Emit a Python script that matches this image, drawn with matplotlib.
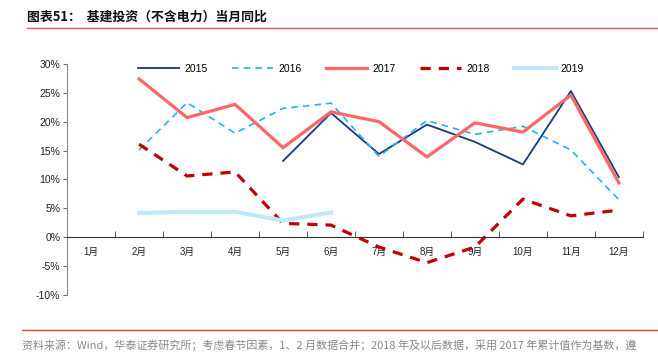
import matplotlib.pyplot as plt
import numpy as np

plt.rcParams["font.family"] = ['Liberation Sans', 'Noto Sans CJK SC', 'DejaVu Sans']
FONTSIZE = 7.5

months = ['1月', '2月', '3月', '4月', '5月', '6月', '7月', '8月', '9月', '10月', '11月', '12月']
nan = np.nan
y2015 = [nan, nan, nan, nan, 13.2, 21.5, 14.4, 19.5, 16.5, 12.6, 25.3, 10.4]
y2016 = [nan, 15.1, 23.3, 18.0, 22.3, 23.2, 14.0, 20.2, 17.8, 19.2, 15.1, 6.5]
y2017 = [nan, 27.4, 20.7, 23.0, 15.5, 21.7, 20.0, 13.9, 19.8, 18.2, 24.6, 9.4]
y2018 = [nan, 16.1, 10.6, 11.3, 2.4, 2.1, -1.7, -4.4, -1.7, 6.6, 3.7, 4.7]
y2019 = [nan, 4.2, 4.4, 4.4, 2.9, 4.3, nan, nan, nan, nan, nan, nan]
yticks = [-10, -5, 0, 5, 10, 15, 20, 25, 30]

fig = plt.figure(figsize=(6.58, 3.55), dpi=100)
ax = fig.add_axes([0.102, 0.169, 0.875, 0.651])
x = np.arange(len(months))

ax.plot(x, y2015, color='#163B7C', lw=1.3, label='2015')
ax.plot(x, y2016, color='#1CB4F0', lw=1.2, ls=(0, (4, 3)), label='2016')
ax.plot(x, y2017, color='#FF6666', lw=2.3, label='2017')
ax.plot(x, y2018, color='#C00000', lw=2.3, ls=(0, (3.2, 2.5)), label='2018')
ax.plot(x, y2019, color='#BFE9F7', lw=3.0, label='2019')

ax.set_xlim(-0.5, 11.5)
ax.set_ylim(-10, 30)
ax.set_yticks(yticks)
ax.set_yticklabels(['%d%%' % v for v in yticks])
ax.set_xticks(x)
ax.set_xticklabels(months)
ax.set_xticks(np.arange(-0.5, 12, 1), minor=True)
ax.tick_params(axis='x', which='major', length=0, pad=7, labelsize=7, labelcolor='#222222')
ax.tick_params(axis='x', which='minor', length=4, direction='in', color='#444444')
ax.tick_params(axis='y', length=3, color='#666666', pad=2, labelsize=FONTSIZE, labelcolor='#222222')
ax.spines['top'].set_visible(False)
ax.spines['right'].set_visible(False)
ax.spines['bottom'].set_position(('data', 0))
ax.spines['bottom'].set_color('#333333')
ax.spines['left'].set_color('#888888')

ax.legend(loc='upper left', bbox_to_anchor=(0.106, 1.04), ncol=5, frameon=False,
          fontsize=FONTSIZE, handlelength=4.0, columnspacing=2.3, handletextpad=0.5)

# title and footer
fig.text(0.041, 0.952, '图表51：  基建投资（不含电力）当月同比', fontsize=9.3, fontweight='bold',
         family=['Noto Sans CJK SC', 'DejaVu Sans'], va='center', color='#111111')
fig.add_artist(plt.Line2D([0.041, 1.0], [0.921, 0.921], color='#E06060', lw=1.0))
fig.add_artist(plt.Line2D([0.033, 1.0], [0.07, 0.07], color='#E8432A', lw=1.0))
fig.text(0.033, 0.028, '资料来源：Wind，华泰证券研究所；考虑春节因素，1、2 月数据合并；2018 年及以后数据，采用 2017 年累计值作为基数，遵',
         fontsize=7.9, color='#888888', va='center', family=['Noto Sans CJK SC', 'DejaVu Sans'])

fig.savefig('out.png', dpi=100)
